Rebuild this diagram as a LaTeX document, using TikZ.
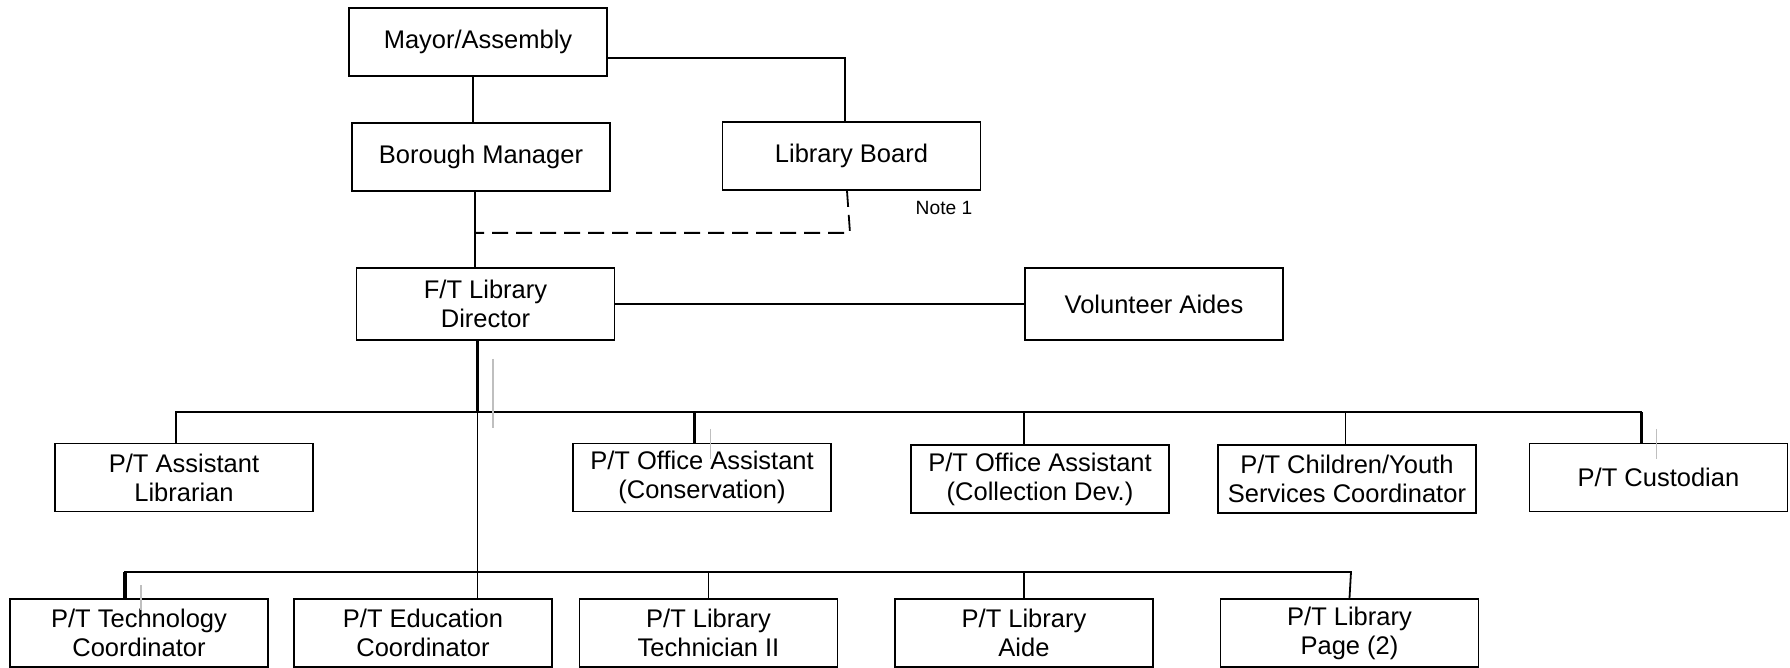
\documentclass[tikz,border=0pt]{standalone}
\usepackage{fontspec}
\setmainfont{Liberation Sans}
\begin{document}
\begin{tikzpicture}[x = 0.5pt, y = -0.5pt, line width = 0.9pt,
    box/.style = {draw, minimum width = 129pt, minimum height = 34pt, inner sep = 0pt, align = center, font = \fontsize{12.75}{14.5}\selectfont},
    heavy/.style = {line width = 1.6pt},
    tick/.style = {black!25, line width = 0.7pt}]
    \useasboundingbox (0, 0) rectangle (1790, 668);

    \node [box] (mayor) at (478, 42) {Mayor/Assembly};
    \node [box] (borough) at (481, 157) {Borough Manager};
    \node [box] (board) at (851.5, 156) {Library Board};
    \node [font = \fontsize{9.6}{11}\selectfont] (note) at (944, 208) {Note 1};
    \node [box, minimum height = 36pt] (director) at (485.5, 304) {F/T Library\\Director};
    \node [box, minimum height = 36pt] (volunteers) at (1154, 304) {Volunteer Aides};

    \node [box] (asstlib) at (184, 477.5) {P/T Assistant\\Librarian};
    \node [box] (offcons) at (702, 477.5) {P/T Office Assistant\\(Conservation)};
    \node [box] (offcoll) at (1040, 479) {P/T Office Assistant\\(Collection Dev.)};
    \node [box] (youth) at (1347, 479) {P/T Children/Youth\\Services Coordinator};
    \node [box] (custodian) at (1658.5, 477.5) {P/T Custodian};

    \node [box] (techcoord) at (139, 633) {P/T Technology\\Coordinator};
    \node [box] (educoord) at (423, 633) {P/T Education\\Coordinator};
    \node [box] (technician) at (708.5, 633) {P/T Library\\Technician II};
    \node [box] (aide) at (1024, 633) {P/T Library\\Aide};
    \node [box] (page) at (1349.5, 633) {P/T Library\\Page (2)};

    \coordinate (bmdrop) at ([xshift = -3pt]borough.south);
    \coordinate (bus1) at (477.5, 412);
    \coordinate (bus2) at (477.5, 572);

    \draw ([xshift = -2.5pt]mayor.south) -- ([xshift = -2.5pt]mayor.south |- borough.north);
    \draw ([yshift = -8pt]mayor.east) -| ([xshift = -3.25pt]board.north);
    \draw (bmdrop) -- (bmdrop |- director.north);
    \draw [dash pattern = on 8pt off 4pt] ([xshift = -2.25pt]board.south) -- ([xshift = -0.75pt, yshift = -21pt]board.south) coordinate (bend) -- (bend -| bmdrop);
    \draw (director.east) -- (volunteers.west);

    \draw [heavy] ([xshift = -4pt]director.south) -- (bus1);
    \draw (bus1) -- (bus1 |- educoord.north);
    \draw ([xshift = -4pt]asstlib.north) |- (bus1) -| ([xshift = -8.5pt]custodian.north);
    \draw [heavy] ([xshift = -8.5pt]custodian.north) -- ([xshift = -8.5pt]custodian.north |- bus1);
    \draw [heavy] ([xshift = -3.75pt]offcons.north) -- ([xshift = -3.75pt]offcons.north |- bus1);
    \draw ([xshift = -8pt]offcoll.north) -- ([xshift = -8pt]offcoll.north |- bus1);
    \draw ([xshift = -0.75pt]youth.north) -- ([xshift = -0.75pt]youth.north |- bus1);

    \draw ([xshift = -7pt]techcoord.north) |- (bus2) -- ([xshift = 0.75pt]page.north |- bus2) -- (page.north);
    \draw [heavy] ([xshift = -7pt]techcoord.north) -- ([xshift = -7pt]techcoord.north |- bus2);
    \draw (technician.north) -- (technician.north |- bus2);
    \draw (aide.north) -- (aide.north |- bus2);

    \draw [tick] (493, 359) -- (493, 428);
    \draw [tick] (710.5, 429) -- (710.5, 459);
    \draw [tick] (141, 585) -- (141, 610);
    \draw [tick] (1656.5, 429) -- (1656.5, 459);
\end{tikzpicture}
\end{document}
